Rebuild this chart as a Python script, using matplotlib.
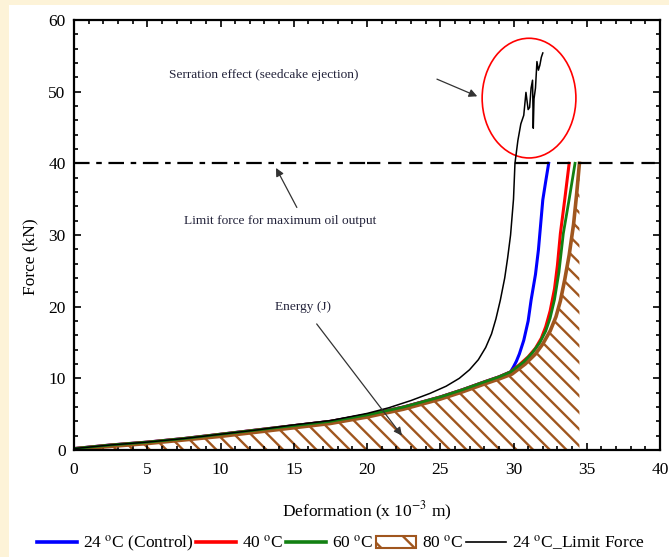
import numpy as np
import matplotlib.pyplot as plt
from matplotlib.patches import Ellipse, Patch, Rectangle
from matplotlib.ticker import MultipleLocator

plt.rcParams['font.family'] = ['Liberation Serif', 'DejaVu Serif']
plt.rcParams['mathtext.fontset'] = 'stix'
plt.rcParams['hatch.linewidth'] = 1.7

# deformation (x 10^-3 m) / force (kN)
x_ctrl = [0, 2.5, 5, 7.5, 10, 12.5, 15, 17.5, 20, 22.5, 25, 26.5, 28, 29, 29.8,
          30.0, 30.2, 30.4, 30.7, 31.0, 31.2, 31.5, 31.7, 32.0, 32.2, 32.4]
y_ctrl = [0.2, 0.7, 1.1, 1.6, 2.2, 2.8, 3.4, 4.0, 4.9, 6.0, 7.4, 8.4, 9.5, 10.2, 10.9,
          11.6, 12.4, 13.4, 15.3, 18.0, 20.9, 24.5, 27.9, 34.9, 37.5, 40.0]

x_40 = [0, 2.5, 5, 7.5, 10, 12.5, 15, 17.5, 20, 22.5, 25, 26.5, 28, 29, 29.8,
        30.4, 31.0, 31.5, 31.9, 32.2, 32.5, 32.8, 33.0, 33.2, 33.5, 33.8]
y_40 = [0.2, 0.7, 1.1, 1.6, 2.2, 2.8, 3.4, 4.0, 4.9, 6.0, 7.4, 8.4, 9.5, 10.2, 10.9,
        11.9, 13.0, 14.2, 15.6, 17.2, 19.4, 22.5, 25.8, 30.2, 35.0, 40.0]

x_60 = [0, 2.5, 5, 7.5, 10, 12.5, 15, 17.5, 20, 22.5, 25, 26.5, 28, 29, 29.8,
        30.7, 31.3, 31.8, 32.2, 32.5, 32.8, 33.1, 33.4, 33.8, 34.2]
y_60 = [0.2, 0.7, 1.1, 1.6, 2.2, 2.8, 3.4, 4.0, 4.9, 6.0, 7.4, 8.4, 9.5, 10.2, 10.9,
        12.3, 13.6, 15.0, 16.6, 18.4, 21.0, 24.8, 30.2, 35.0, 40.0]

x_80 = [0, 2.5, 5, 7.5, 10, 12.5, 15, 17.5, 20, 22.5, 25, 26.5, 28, 29, 29.9,
        30.8, 31.5, 32.0, 32.5, 32.9, 33.2, 33.5, 33.8, 34.1, 34.3, 34.5]
y_80 = [0.1, 0.5, 0.9, 1.4, 1.9, 2.5, 3.1, 3.7, 4.6, 5.7, 7.1, 8.1, 9.2, 9.9, 10.6,
        12.0, 13.4, 14.8, 16.6, 18.6, 20.8, 23.8, 27.2, 31.5, 35.5, 40.0]

x_lim = [0, 2.5, 5, 7.5, 10, 12.5, 15, 17.5, 20, 21.5, 23, 24.3, 25.4, 26.3, 27.0,
         27.6, 28.1, 28.5, 28.8, 29.1, 29.4, 29.6, 29.8, 30.0, 30.1, 30.3, 30.5,
         30.7, 30.85, 31.0, 31.1, 31.2, 31.3, 31.35, 31.4, 31.5, 31.6, 31.7, 31.8,
         31.9, 32.0]
y_lim = [0.2, 0.7, 1.1, 1.6, 2.2, 2.8, 3.5, 4.1, 5.1, 5.9, 6.9, 7.9, 8.9, 10.0, 11.2,
         12.6, 14.3, 16.2, 18.3, 20.9, 24.0, 26.8, 30.0, 35.0, 40.0, 43.2, 45.5,
         46.7, 49.9, 47.5, 47.8, 50.5, 51.6, 44.9, 49.0, 50.5, 54.2, 53.0, 53.7,
         54.8, 55.4]

limit_force = 40

fig = plt.figure(figsize=(6.69, 5.57), dpi=100)
fig.patch.set_facecolor('#fdf3d8')
fig.patches.append(Rectangle((9 / 669, 0), 1, 552 / 557, transform=fig.transFigure,
                             facecolor='white', edgecolor='none', zorder=-1))
ax = fig.add_axes([74 / 669, 107 / 557, 586 / 669, 430 / 557])

brown = '#a0561e'
ax.fill_between(x_80, 0, y_80, facecolor='none', edgecolor=brown, hatch='\\\\', linewidth=0)
ax.plot(x_ctrl, y_ctrl, color='#0000ff', lw=2.2)
ax.plot(x_40, y_40, color='#ff0000', lw=2.2)
ax.plot(x_80, y_80, color=brown, lw=2.6)
ax.plot(x_60, y_60, color='#128012', lw=2.0)
ax.plot(x_lim, y_lim, color='black', lw=1.1)

ax.axhline(limit_force, xmin=0, xmax=0.5, color='black', lw=1.6, dashes=(7, 3, 2.5, 3))
ax.axhline(limit_force, xmin=0.5, xmax=1, color='black', lw=1.6, dashes=(6, 3.5))

ax.add_patch(Ellipse((31.06, 49.1), 6.4, 16.7, fill=False, edgecolor='red', lw=1.2))

txt_color = '#22223a'
ax.annotate('', xy=(27.7, 49.2), xytext=(24.6, 51.9),
            arrowprops=dict(arrowstyle='-|>', color='#333333', lw=0.9, mutation_scale=12))
ax.text(6.5, 52.3, 'Serration effect (seedcake ejection)', fontsize=9.6, color=txt_color,
        va='center')
ax.annotate('', xy=(13.7, 39.7), xytext=(15.3, 33.5),
            arrowprops=dict(arrowstyle='-|>', color='#333333', lw=0.9, mutation_scale=12))
ax.text(7.5, 31.9, 'Limit force for maximum oil output', fontsize=9.6, color=txt_color,
        va='center')
ax.annotate('', xy=(22.5, 1.7), xytext=(16.45, 17.9),
            arrowprops=dict(arrowstyle='-|>', color='#333333', lw=0.9, mutation_scale=12))
ax.text(15.6, 19.9, 'Energy (J)', fontsize=9.6, color=txt_color, ha='center', va='center')

ax.set_xlim(0, 40)
ax.set_ylim(0, 60)
ax.xaxis.set_major_locator(MultipleLocator(5))
ax.xaxis.set_minor_locator(MultipleLocator(1))
ax.yaxis.set_major_locator(MultipleLocator(10))
ax.yaxis.set_minor_locator(MultipleLocator(2))
ax.tick_params(which='both', direction='in', top=True, right=True, width=1.2)
ax.tick_params(which='major', length=5, labelsize=12.5)
ax.tick_params(which='minor', length=3)
ax.tick_params(axis='x', pad=9)
ax.tick_params(axis='y', pad=6)
for s in ax.spines.values():
    s.set_linewidth(1.6)

ax.set_xlabel('Deformation (x 10$^{-3}$ m)', fontsize=12.5)
ax.xaxis.set_label_coords(0.5, -0.115)
ax.set_ylabel('Force (kN)', fontsize=12.5)
ax.yaxis.set_label_coords(-0.06, 0.45)

handles = [
    plt.Line2D([], [], color='#0000ff', lw=2.6),
    plt.Line2D([], [], color='#ff0000', lw=2.6),
    plt.Line2D([], [], color='#128012', lw=2.6),
    Patch(facecolor='white', edgecolor=brown, hatch='\\', lw=1.5),
    plt.Line2D([], [], color='black', lw=1.2),
]
labels = ['24 $^{\\rm o}$C (Control)', '40 $^{\\rm o}$C', '60 $^{\\rm o}$C',
          '80 $^{\\rm o}$C', '24 $^{\\rm o}$C_Limit Force']
fig.legend(handles, labels, loc='center', bbox_to_anchor=(0.51, 0.024), ncol=5,
           frameon=False, fontsize=12.5, handlelength=2.3, handletextpad=0.35,
           columnspacing=0.15, borderpad=0)

fig.savefig('out.png', dpi=100)
